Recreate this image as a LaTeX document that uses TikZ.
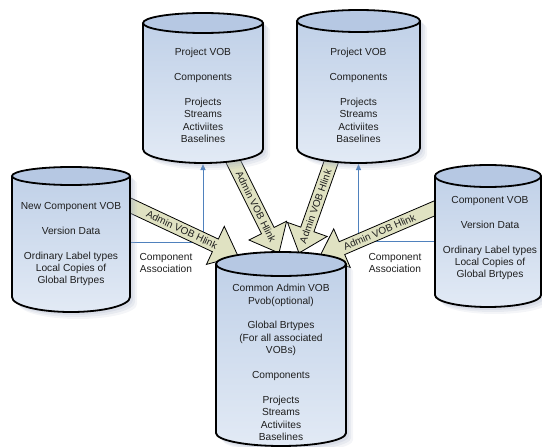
\documentclass[tikz,border=0pt]{standalone}
\usepackage{fontspec}
\setmainfont{Liberation Sans}
\usetikzlibrary{calc,arrows.meta}

\definecolor{drumtop}{RGB}{182,200,227}
\definecolor{drumhi}{RGB}{190,207,231}
\definecolor{drumlo}{RGB}{226,234,245}
\definecolor{drumshadow}{RGB}{165,176,198}
\definecolor{hlinkfill}{RGB}{224,226,194}
\definecolor{assocblue}{RGB}{79,129,189}
\definecolor{ink}{RGB}{30,30,30}

\tikzset{
  drumbody/.style={inner sep=0pt, outer sep=0pt, draw=none},
  drumfill/.style={top color=drumhi, bottom color=drumlo, draw=none},
  drumcap/.style={fill=drumtop, draw=black, line width=1.8pt},
  drumline/.style={draw=black, line width=1.8pt, line join=round},
  drumshade/.style={fill=drumshadow},
  vobtext/.style={align=center, text=ink, inner sep=0pt,
    font=\fontsize{10.2}{12.4}\selectfont},
  assoc/.style={draw=assocblue, line width=1pt,
    -{Triangle[length=6pt,width=5pt]}},
  hlink/.style={fill=hlinkfill, draw=black, line width=0.8pt},
  hlinktext/.style={text=ink, inner sep=0pt, font=\fontsize{10}{11}\selectfont}
}

% Drum (database cylinder) around a body node:
% #1 body node, #2 half width, #3 top cap y radius, #4 bottom y radius
\newcommand\vobdrum[4]{%
  \foreach \s/\o in {7/0.12,5/0.16,3/0.2}{
    \fill[drumshade, opacity=\o]
      ([shift={(\s pt,-\s pt)}]#1.north west) -- ([shift={(\s pt,-\s pt)}]#1.south west)
      arc[start angle=180, end angle=360, x radius=#2pt, y radius=#4pt]
      -- ([shift={(\s pt,-\s pt)}]#1.north east)
      arc[start angle=0, end angle=180, x radius=#2pt, y radius=#3pt] -- cycle;
  }
  \path[drumfill] (#1.north west) -- (#1.south west)
      arc[start angle=180, end angle=360, x radius=#2pt, y radius=#4pt]
      -- (#1.north east)
      arc[start angle=0, end angle=180, x radius=#2pt, y radius=#3pt] -- cycle;
  \draw[drumcap] (#1.north) ellipse[x radius=#2pt, y radius=#3pt];
  \draw[drumline] (#1.north west) -- (#1.south west)
      arc[start angle=180, end angle=360, x radius=#2pt, y radius=#4pt]
      -- (#1.north east);
}

% Block arrow from #1 to tip #2, label at position #3
\newcommand\hlinkarrow[3]{%
  \coordinate (#1-b) at ($(#2)!25pt!(#1)$);
  \draw[hlink] ($(#1)!7pt!90:(#2)$) -- ($(#1-b)!7pt!90:(#2)$)
    -- ($(#1-b)!21pt!90:(#2)$) -- (#2) -- ($(#1-b)!21pt!-90:(#2)$)
    -- ($(#1-b)!7pt!-90:(#2)$) -- ($(#1)!7pt!-90:(#2)$) -- cycle;
  \path (#1) -- (#2) node[hlinktext, sloped, pos=#3] (#1-lbl) {Admin VOB Hlink};
}

\begin{document}
\begin{tikzpicture}[x=1pt, y=1pt]
\useasboundingbox (0,0) rectangle (542,-447);

% drum bodies (between the centres of the top and bottom ellipses)
\node[drumbody, minimum width=120pt, minimum height=126pt] (pvA) at (203,-86) {};
\node[drumbody, minimum width=123pt, minimum height=127pt] (pvB) at (358.5,-84.5) {};
\node[drumbody, minimum width=118pt, minimum height=121pt] (ncv) at (71,-236.5) {};
\node[drumbody, minimum width=106pt, minimum height=119pt] (cv) at (488,-235.5) {};
\node[drumbody, minimum width=130pt, minimum height=169pt] (cav) at (281,-348.5) {};

\coordinate (pvA-bot) at ($(pvA.south)+(0,-15)$);
\coordinate (pvB-bot) at ($(pvB.south)+(0,-16)$);

% component association links
\draw[assoc] ([yshift=-5.5pt]ncv.east) -| (pvA-bot);
\draw[assoc] ([yshift=-5.5pt]cv.west) -| (pvB-bot);
\node[vobtext, font=\fontsize{10.2}{12}\selectfont] (asL) at (166,-263) {Component\\Association};
\node[vobtext, font=\fontsize{10.2}{12}\selectfont] (asR) at (395,-263) {Component\\Association};

% admin hyperlinks towards the common admin VOB
\coordinate (h1s) at (126,-203.5); \coordinate (h1t) at (238,-256);
\coordinate (h2s) at (230,-155);   \coordinate (h2t) at (279,-253);
\coordinate (h3s) at (334,-154);   \coordinate (h3t) at (299,-253);
\coordinate (h4s) at (440,-206);   \coordinate (h4t) at (319,-258);
\hlinkarrow{h1s}{h1t}{0.5}
\hlinkarrow{h2s}{h2t}{0.53}
\hlinkarrow{h3s}{h3t}{0.53}
\hlinkarrow{h4s}{h4t}{0.5}

% drums
\vobdrum{pvA}{60}{10}{14}
\vobdrum{pvB}{61.5}{11}{15}
\vobdrum{ncv}{59}{9}{15}
\vobdrum{cv}{53}{11}{12}
\vobdrum{cav}{65}{12}{13}

% drum contents
\node[vobtext] (pvA-t) at (203,-95.4)
  {Project VOB\\[12.4pt]Components\\[12.4pt]Projects\\Streams\\Activiites\\Baselines};
\node[vobtext] (pvB-t) at (358.5,-95.4)
  {Project VOB\\[12.4pt]Components\\[12.4pt]Projects\\Streams\\Activiites\\Baselines};
\node[vobtext] (ncv-t) at (71,-244.2)
  {New Component VOB\\[12.4pt]Version Data\\[12.4pt]Ordinary Label types\\Local Copies of\\Global Brtypes};
\node[vobtext] (cv-t) at (490,-238.2)
  {Component VOB\\[12.4pt]Version Data\\[12.4pt]Ordinary Label types\\Local Copies of\\Global Brtypes};
\node[vobtext] (cav-t) at (281,-362.4)
  {Common Admin VOB\\Pvob(optional)\\[12.4pt]Global Brtypes\\(For all associated\\VOBs)\\[12.4pt]Components\\[12.4pt]Projects\\Streams\\Activiites\\Baselines};
\end{tikzpicture}
\end{document}
